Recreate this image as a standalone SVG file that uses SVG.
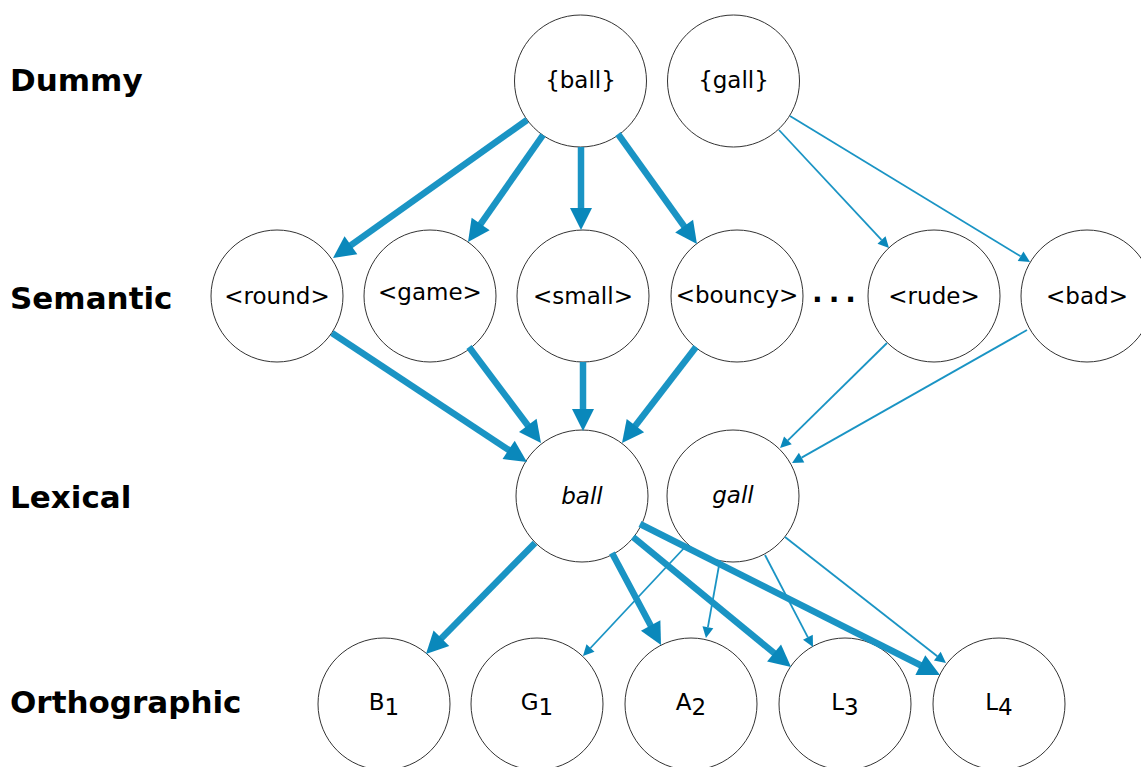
<svg xmlns="http://www.w3.org/2000/svg" width="1141" height="767" viewBox="0 0 1141 767">
<style>
  .node circle { fill: #ffffff; stroke: #333333; stroke-width: 1; }
  .node text { font-family: "DejaVu Sans", Verdana, sans-serif; font-size: 23px; fill: #000000; text-anchor: middle; }
  .node text.it { font-style: italic; }
  .layer { font-family: "DejaVu Sans", Verdana, sans-serif; font-size: 31px; font-weight: bold; fill: #000000; }
  .thick { stroke: #1a94c4; stroke-width: 6.5; fill: none; marker-end: url(#headThick); }
  .thin { stroke: #1a94c4; stroke-width: 1.8; fill: none; marker-end: url(#headThin); }
</style>
<defs>
  <marker id="headThick" viewBox="0 -11 22 22" refX="2" refY="0" markerWidth="22" markerHeight="22" markerUnits="userSpaceOnUse" orient="auto" overflow="visible">
    <path d="M0,-11 L22,0 L0,11 z" fill="#0a88bb"/>
  </marker>
  <marker id="headThin" viewBox="0 -5.5 11 11" refX="0" refY="0" markerWidth="11" markerHeight="11" markerUnits="userSpaceOnUse" orient="auto" overflow="visible">
    <path d="M0,-5.5 L11,0 L0,5.5 z" fill="#0a88bb"/>
  </marker>
</defs>
<rect width="1141" height="767" fill="#ffffff"/>

<g id="layer-labels">
  <text class="layer" x="10" y="91">Dummy</text>
  <text class="layer" x="10" y="309">Semantic</text>
  <text class="layer" x="10" y="508">Lexical</text>
  <text class="layer" x="10" y="713">Orthographic</text>
</g>

<g id="n-ball-dummy" class="node"><circle cx="580.5" cy="81" r="66"/><text x="580.5" y="88">{ball}</text></g>
<g id="n-gall-dummy" class="node"><circle cx="733.5" cy="81" r="66"/><text x="733.5" y="88">{gall}</text></g>

<g id="n-round" class="node"><circle cx="277" cy="296" r="66"/><text x="277" y="304">&lt;round&gt;</text></g>
<g id="n-game" class="node"><circle cx="430" cy="296" r="66"/><text x="430" y="300">&lt;game&gt;</text></g>
<g id="n-small" class="node"><circle cx="583" cy="296" r="66"/><text x="583" y="304">&lt;small&gt;</text></g>
<g id="n-bouncy" class="node"><circle cx="737" cy="296" r="66"/><text x="737" y="303">&lt;bouncy&gt;</text></g>
<g id="n-rude" class="node"><circle cx="934" cy="296" r="66"/><text x="934" y="304">&lt;rude&gt;</text></g>
<g id="n-bad" class="node"><circle cx="1087" cy="296" r="66"/><text x="1087" y="304">&lt;bad&gt;</text></g>
<g id="ellipsis"><text x="812" y="302" font-family="DejaVu Sans, sans-serif" font-size="28" font-weight="bold" letter-spacing="6" fill="#000000">...</text></g>

<g id="n-ball-lex" class="node"><circle cx="582" cy="496" r="66"/><text class="it" x="582" y="504">ball</text></g>
<g id="n-gall-lex" class="node"><circle cx="733" cy="496" r="66"/><text class="it" x="733" y="503">gall</text></g>

<g id="n-b1" class="node"><circle cx="384" cy="704" r="66"/><text x="384" y="710">B<tspan dy="5">1</tspan></text></g>
<g id="n-g1" class="node"><circle cx="537" cy="704" r="66"/><text x="537" y="710">G<tspan dy="5">1</tspan></text></g>
<g id="n-a2" class="node"><circle cx="691" cy="704" r="66"/><text x="691" y="710">A<tspan dy="5">2</tspan></text></g>
<g id="n-l3" class="node"><circle cx="845" cy="704" r="66"/><text x="845" y="710">L<tspan dy="5">3</tspan></text></g>
<g id="n-l4" class="node"><circle cx="999" cy="704" r="66"/><text x="999" y="710">L<tspan dy="5">4</tspan></text></g>

<g id="connectors">
  <line class="thick" x1="527" y1="120" x2="349.3" y2="246.4"/>
  <line class="thick" x1="543" y1="135" x2="479.5" y2="225.6"/>
  <line class="thick" x1="581" y1="147" x2="581" y2="210"/>
  <line class="thick" x1="618" y1="134" x2="685.3" y2="227.8"/>
  <line class="thin" x1="779" y1="130" x2="881.5" y2="239.9"/>
  <line class="thin" x1="790" y1="116" x2="1020.6" y2="256.3"/>
  <line class="thick" x1="332" y1="333" x2="510.3" y2="451"/>
  <line class="thick" x1="469" y1="347" x2="529" y2="427"/>
  <line class="thick" x1="583" y1="362" x2="583" y2="411"/>
  <line class="thick" x1="696" y1="347" x2="634.2" y2="427.2"/>
  <line class="thin" x1="887" y1="343" x2="787.9" y2="440.3"/>
  <line class="thin" x1="1027" y1="330" x2="801.6" y2="457.6"/>
  <line class="thick" x1="535" y1="543" x2="440" y2="639.7"/>
  <line class="thick" x1="612" y1="553" x2="651.6" y2="627.3"/>
  <line class="thick" x1="633" y1="537" x2="775.6" y2="654.3"/>
  <line class="thick" x1="640" y1="524" x2="922.1" y2="666"/>
  <line class="thin" x1="686" y1="546" x2="590.5" y2="648"/>
  <line class="thin" x1="720" y1="560" x2="707.9" y2="627.2"/>
  <line class="thin" x1="765" y1="555" x2="807.9" y2="637.3"/>
  <line class="thin" x1="785" y1="537" x2="937.3" y2="656.2"/>
</g>
</svg>
